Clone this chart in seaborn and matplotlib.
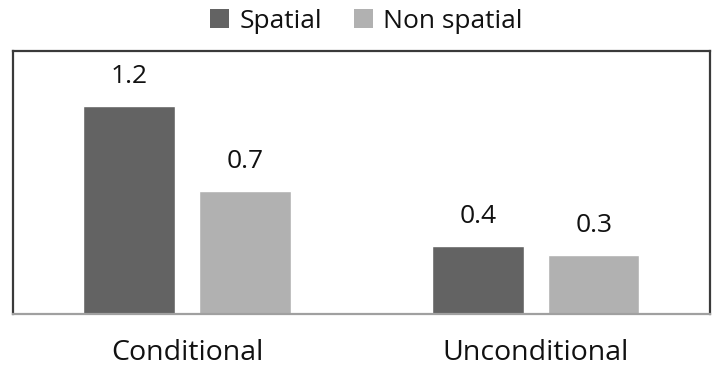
import matplotlib
matplotlib.use("Agg")
import matplotlib.pyplot as plt
import seaborn as sns
import pandas as pd
from matplotlib.patches import Patch

categories = ["Conditional", "Unconditional"]
series = ["Spatial", "Non spatial"]
spatial_values = [1.2, 0.39]
nonspatial_values = [0.71, 0.34]
colors = ["#636363", "#b1b1b1"]

df = pd.DataFrame({
    "category": categories * 2,
    "series": [series[0]] * 2 + [series[1]] * 2,
    "value": spatial_values + nonspatial_values,
})

sns.set_style("white")
FONT = ["Open Sans", "DejaVu Sans"]
plt.rcParams["font.family"] = FONT
FS = 19

W, H = 720, 369
fig = plt.figure(figsize=(W / 100, H / 100), dpi=100)
ax = fig.add_axes([12.7 / W, 1 - 313.7 / H, (710 - 12.7) / W, (313.7 - 50.7) / H])

sns.barplot(data=df, x="category", y="value", hue="series", hue_order=series,
            palette=colors, width=0.665, gap=0.21, ax=ax, legend=False,
            saturation=1, errorbar=None)

ax.set_xlim(-0.5, 1.5)
ax.set_ylim(0, 1.518)
ax.set_yticks([])
ax.set_xlabel("")
ax.set_ylabel("")
ax.tick_params(axis="x", length=0, pad=18, labelsize=20.5, labelcolor="#111111")

for side in ["left", "top", "right"]:
    ax.spines[side].set_color("#3a3a3a")
    ax.spines[side].set_linewidth(1.6)
ax.spines["bottom"].set_color("#a0a0a0")
ax.spines["bottom"].set_linewidth(1.6)

for cont in ax.containers:
    ax.bar_label(cont, fmt="%.1f", padding=12, fontsize=FS, color="#111111")

handles = [Patch(facecolor=c, edgecolor="none", label=s) for c, s in zip(colors, series)]
fig.legend(handles=handles, loc="center", bbox_to_anchor=(366.5 / W, 1 - 21 / H),
           ncol=2, frameon=False, fontsize=FS, handlelength=0.72, handleheight=0.72,
           handletextpad=0.4, columnspacing=1.2, labelcolor="#111111")

fig.savefig("out.png", dpi=100)
